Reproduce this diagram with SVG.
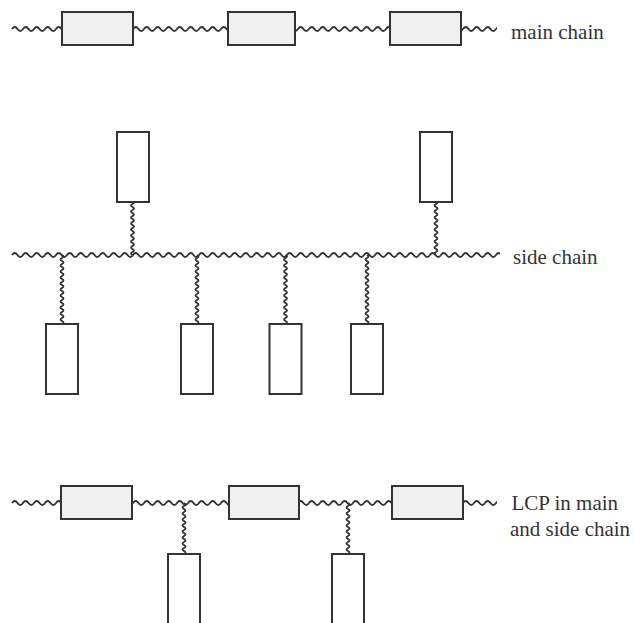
<svg xmlns="http://www.w3.org/2000/svg" xmlns:xlink="http://www.w3.org/1999/xlink" width="634" height="623" viewBox="0 0 634 623">
<style>
.w{fill:none;stroke:#333;stroke-width:1.8;stroke-linejoin:round}
.mb{fill:#f0f0f0;stroke:#333;stroke-width:2}
.sb{fill:#fff;stroke:#333;stroke-width:2}
.t{font-size:21px;fill:#333}
</style>
<defs>
<clipPath id="c1" clipPathUnits="userSpaceOnUse"><rect x="0" y="0" width="497" height="623"/></clipPath>
<clipPath id="c2" clipPathUnits="userSpaceOnUse"><rect x="0" y="0" width="500" height="623"/></clipPath>
<path id="hw" d="M0 0 q2.75 -4 5.5 0 t5.5 0 5.5 0 5.5 0 5.5 0 5.5 0 5.5 0 5.5 0 5.5 0 5.5 0 5.5 0 5.5 0 5.5 0 5.5 0 5.5 0 5.5 0 5.5 0 5.5 0 5.5 0 5.5 0 5.5 0 5.5 0 5.5 0 5.5 0 5.5 0 5.5 0 5.5 0 5.5 0 5.5 0 5.5 0 5.5 0 5.5 0 5.5 0 5.5 0 5.5 0 5.5 0 5.5 0 5.5 0 5.5 0 5.5 0 5.5 0 5.5 0 5.5 0 5.5 0 5.5 0 5.5 0 5.5 0 5.5 0 5.5 0 5.5 0 5.5 0 5.5 0 5.5 0 5.5 0 5.5 0 5.5 0 5.5 0 5.5 0 5.5 0 5.5 0 5.5 0 5.5 0 5.5 0 5.5 0 5.5 0 5.5 0 5.5 0 5.5 0 5.5 0 5.5 0 5.5 0 5.5 0 5.5 0 5.5 0 5.5 0 5.5 0 5.5 0 5.5 0 5.5 0 5.5 0 5.5 0 5.5 0 5.5 0 5.5 0 5.5 0 5.5 0 5.5 0 5.5 0 5.5 0 5.5 0 5.5 0 5.5 0 5.5 0"/>
<path id="v18" d="M0 0 q3 1.5 0 3 t0 3 0 3 0 3 0 3 0 3 0 3 0 3 0 3 0 3 0 3 0 3 0 3 0 3 0 3 0 3 0 3 0 3"/>
<path id="v23" d="M0 0 q3 1.5 0 3 t0 3 0 3 0 3 0 3 0 3 0 3 0 3 0 3 0 3 0 3 0 3 0 3 0 3 0 3 0 3 0 3 0 3 0 3 0 3 0 3 0 3 0 3"/>
<path id="v17" d="M0 0 q3 1.5 0 3 t0 3 0 3 0 3 0 3 0 3 0 3 0 3 0 3 0 3 0 3 0 3 0 3 0 3 0 3 0 3 0 3"/>
</defs>
<g id="connectors">
<g clip-path="url(#c1)">
<use href="#hw" class="w" x="12" y="29"/>
<use href="#hw" class="w" x="12" y="503"/>
</g>
<g clip-path="url(#c2)">
<use href="#hw" class="w" x="12" y="255"/>
</g>
<use href="#v18" class="w" x="132.5" y="201"/>
<use href="#v18" class="w" x="436" y="201"/>
<use href="#v23" class="w" x="62" y="255"/>
<use href="#v23" class="w" x="197" y="255"/>
<use href="#v23" class="w" x="285.5" y="255"/>
<use href="#v23" class="w" x="367" y="255"/>
<use href="#v17" class="w" x="184" y="503"/>
<use href="#v17" class="w" x="348" y="503"/>
</g>
<g id="main1"><rect class="mb" x="62" y="12" width="71" height="33"/></g>
<g id="main2"><rect class="mb" x="228" y="12" width="67" height="33"/></g>
<g id="main3"><rect class="mb" x="390" y="12" width="71" height="33"/></g>
<g id="side-up1"><rect class="sb" x="117" y="132" width="32" height="70"/></g>
<g id="side-up2"><rect class="sb" x="420" y="132" width="32" height="70"/></g>
<g id="side-dn1"><rect class="sb" x="46" y="324" width="32" height="70"/></g>
<g id="side-dn2"><rect class="sb" x="181" y="324" width="32" height="70"/></g>
<g id="side-dn3"><rect class="sb" x="269.5" y="324" width="32" height="70"/></g>
<g id="side-dn4"><rect class="sb" x="351" y="324" width="32" height="70"/></g>
<g id="lcp1"><rect class="mb" x="61" y="486" width="71" height="33"/></g>
<g id="lcp2"><rect class="mb" x="229" y="486" width="70" height="33"/></g>
<g id="lcp3"><rect class="mb" x="392" y="486" width="71" height="33"/></g>
<g id="lcp-side1"><rect class="sb" x="168" y="554" width="32" height="90"/></g>
<g id="lcp-side2"><rect class="sb" x="332" y="554" width="32" height="90"/></g>
<g id="labels" font-family="Liberation Serif, Times New Roman, DejaVu Serif, serif">
<text class="t" x="511" y="39">main chain</text>
<text class="t" x="513" y="264">side chain</text>
<text class="t" x="511.5" y="510">LCP in main</text>
<text class="t" x="510" y="536">and side chain</text>
</g>
</svg>
